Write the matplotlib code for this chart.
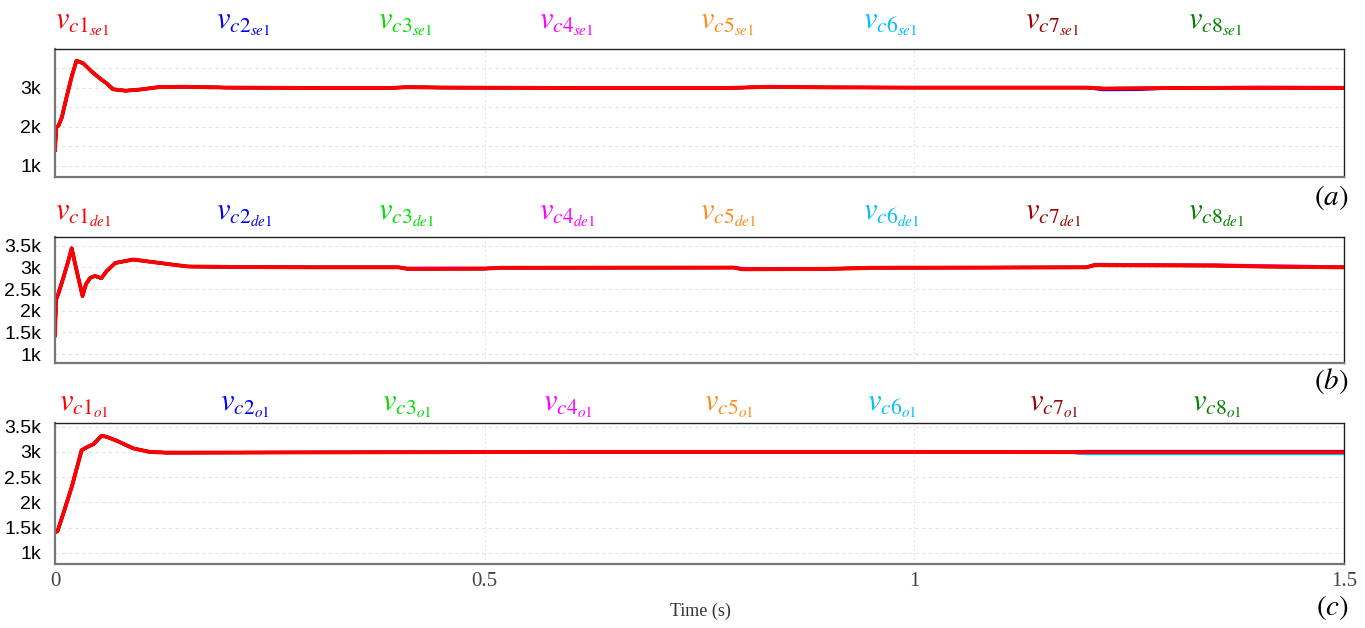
import numpy as np
import matplotlib
matplotlib.use('Agg')
import matplotlib.pyplot as plt

plt.rcParams['mathtext.fontset'] = 'stix'

# channel colours, c1..c8
colors = ['#ff0000', '#0000ff', '#00dd00', '#ff00ff', '#ff8c1a', '#00bfff', '#990000', '#008000']

# panel (a): series-connected, se1
t_a = [0, 0.0015, 0.004, 0.008, 0.0136, 0.0194, 0.025, 0.033, 0.0427, 0.052, 0.06, 0.0675,
       0.082, 0.099, 0.12, 0.15, 0.2, 0.3, 0.39, 0.41, 0.45, 0.6, 0.78, 0.8, 0.83, 0.9, 1.0,
       1.2, 1.22, 1.26, 1.3, 1.4, 1.5]
v_a = [1410, 1990, 2030, 2250, 2780, 3290, 3700, 3630, 3420, 3250, 3120, 2967,
       2930, 2960, 3020, 3030, 3010, 3000, 3000, 3020, 3010, 3000, 3000, 3010, 3030, 3015, 3010,
       3010, 2985, 2990, 3000, 3005, 3000]
# small deviations of the other channels from c1 (same time points)
dev_a = {
    1: [0]*27 + [0, -30, -30, 0, 0, 0],
    3: [0]*27 + [0, 0, 0, 0, 15, 15],
    7: [0]*18 + [0, 10, 5] + [0]*12,
}

# panel (b): de1
t_b = [0, 0.0012, 0.004, 0.0097, 0.0155, 0.0194, 0.025, 0.032, 0.036, 0.041, 0.0465, 0.054,
       0.06, 0.07, 0.091, 0.13, 0.154, 0.2, 0.3, 0.4, 0.41, 0.5, 0.52, 0.79, 0.8, 0.9, 0.95,
       1.2, 1.21, 1.35, 1.4, 1.5]
v_b = [1430, 2250, 2400, 2760, 3150, 3440, 2940, 2339, 2610, 2760, 2800, 2750,
       2910, 3100, 3180, 3080, 3020, 3010, 3000, 3000, 2965, 2970, 2990, 2995, 2955, 2965, 2990,
       3000, 3050, 3040, 3020, 3000]
dev_b = {
    3: [0]*19 + [0, 15, 10, 0, 0, 20, 0, 0, 0, 0, 15, 20, 10],
    4: [0]*24 + [0, -15, -15, 0, 0, 0, 0, 0],
    7: [0]*27 + [0, 20, 10, 5, 0],
}

# panel (c): o1
t_c = [0, 0.003, 0.0097, 0.0194, 0.031, 0.039, 0.0446, 0.054, 0.06, 0.072, 0.091, 0.11,
       0.13, 0.3, 0.6, 1.0, 1.18, 1.2, 1.5]
v_c = [1400, 1430, 1780, 2300, 3034, 3110, 3150, 3320, 3300, 3220, 3070, 3000,
       2985, 2990, 3000, 3000, 2995, 2995, 2995]
dev_c = {
    1: [0]*16 + [0, 15, 15],
    5: [0]*16 + [0, -30, -30],
    7: [0]*16 + [0, -25, -25],
}

panels = [
    ('se1', t_a, v_a, dev_a, (718, 4000), [1000, 2000, 3000], ['1k', '2k', '3k'], '(a)'),
    ('de1', t_b, v_b, dev_b, (793, 3700), [1000, 1500, 2000, 2500, 3000, 3500],
     ['1k', '1.5k', '2k', '2.5k', '3k', '3.5k'], '(b)'),
    ('o1', t_c, v_c, dev_c, (776, 3573), [1000, 1500, 2000, 2500, 3000, 3500],
     ['1k', '1.5k', '2k', '2.5k', '3k', '3.5k'], '(c)'),
]

boxes = [[0.0403, 0.7182, 0.9443, 0.2038],
         [0.0403, 0.4220, 0.9443, 0.2006],
         [0.0403, 0.1019, 0.9443, 0.2245]]
label_y = [0.962, 0.658, 0.355]
tag_y = [0.686, 0.393, 0.033]
label_x = [0.040, 0.158, 0.277, 0.395, 0.513, 0.632, 0.751, 0.870]

fig = plt.figure(figsize=(13.65, 6.28), dpi=100)

for k, (sub, t, v, dev, ylim, yt, ytl, tag) in enumerate(panels):
    ax = fig.add_axes(boxes[k])
    t = np.array(t)
    base = np.array(v, dtype=float)
    # draw c8 first so c1 (red) ends on top
    for ch in range(7, -1, -1):
        y = base + np.array(dev.get(ch, [0]*len(t)))
        ax.plot(t, y, color=colors[ch], lw=2.8 if ch == 0 else 2.2, solid_joinstyle='round')
    ax.set_xlim(0, 1.5)
    ax.set_ylim(*ylim)
    ax.set_yticks(yt)
    ax.set_yticklabels(ytl, fontsize=14, family='Liberation Sans')
    ax.set_yticks(np.arange(1000, ylim[1], 500), minor=True)
    ax.tick_params(axis='y', which='both', length=0, pad=10)
    ax.set_xticks([0, 0.5, 1, 1.5])
    ax.grid(True, axis='y', which='both', ls=(0, (3, 3)), color='#e3e3e3', lw=0.8)
    ax.grid(True, axis='x', which='major', ls=(0, (2, 2)), color='#e0ece0', lw=0.8)
    ax.tick_params(axis='x', length=0, pad=6)
    if k < 2:
        ax.set_xticklabels([])
    else:
        ax.set_xticklabels(['0', '0.5', '1', '1.5'], fontsize=15, family='Liberation Serif',
                           color='#444444')
    for side in ['left', 'bottom']:
        ax.spines[side].set_color('#777777')
        ax.spines[side].set_linewidth(1.6)
    for side in ['top', 'right']:
        ax.spines[side].set_color('#222222')
        ax.spines[side].set_linewidth(1.0)

    for ch in range(8):
        fig.text(label_x[ch] + (0.003 if k == 2 else 0), label_y[k],
                 r'$v_{c%d_{%s}}$' % (ch + 1, sub), color=colors[ch], fontsize=22,
                 ha='left', va='center')
    fig.text(0.988, tag_y[k], r'$(%s)$' % tag[1], fontsize=21, ha='right', va='center')

fig.text(0.513, 0.027, 'Time (s)', fontsize=13, family='Liberation Serif', ha='center',
         va='center', color='#333333')

fig.savefig('out.png', dpi=100)
